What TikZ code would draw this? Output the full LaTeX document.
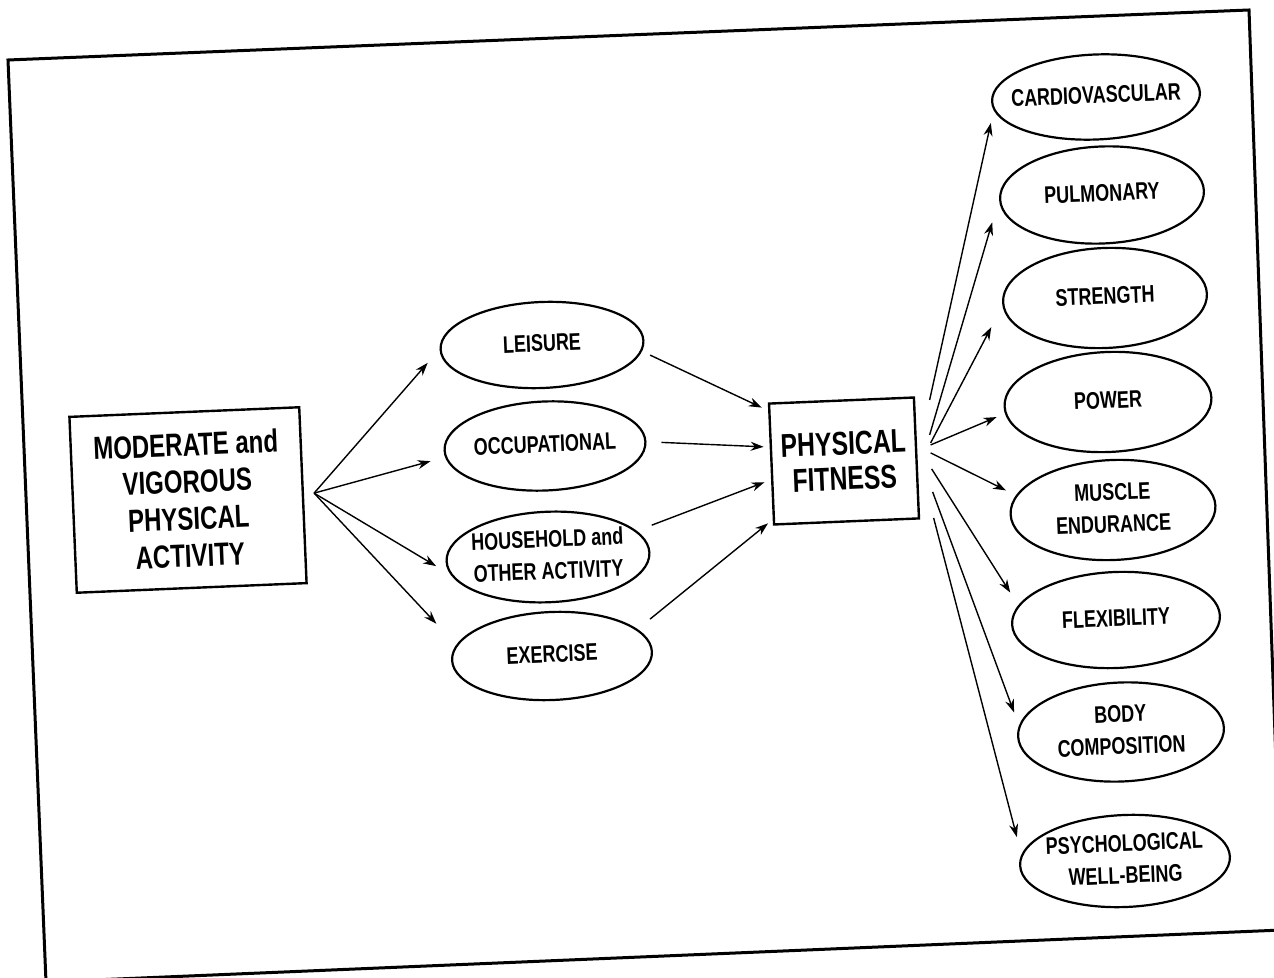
\documentclass[tikz,border=0pt]{standalone}
\usepackage{fontspec}
\setmainfont{Liberation Sans}[FakeStretch=0.75]
\usetikzlibrary{arrows.meta}
\usetikzlibrary{shapes}
\usetikzlibrary{calc}

\newcommand{\ovaltext}[1]{\makebox[0pt]{\begin{tabular}{@{}c@{}}#1\end{tabular}}}

\begin{document}
\begin{tikzpicture}[x=0.5pt,y=-0.5pt]
  \tikzset{oval/.style = {ellipse, draw, line width=1.1pt, inner sep=0pt, rotate=2.4,
      font=\fontsize{12}{16}\selectfont\bfseries}}
  \tikzset{block/.style = {rectangle, draw, line width=1.2pt, align=center, rotate=2.4}}
  \tikzset{line/.style = {draw, line width=0.7pt, -{Stealth[length=6.5pt,width=4.5pt]}}}

  \useasboundingbox (0,0) rectangle (1274,978);
  \draw[line width=1.5pt] (8,60) -- (1249,10) -- (1282,930) -- (46,982) -- cycle;

  %%%%%%%%%%%%

  \node[block, minimum width=115pt, minimum height=88pt,
  font=\fontsize{16}{18.5}\selectfont\bfseries] (mvpa) at (188,500)
  {MODERATE and\\VIGOROUS\\PHYSICAL\\ACTIVITY};

  \node[oval, minimum width=101.5pt, minimum height=43pt] (leisure) at (542,345) {\ovaltext{LEISURE}};
  \node[oval, minimum width=100.5pt, minimum height=44.5pt] (occup) at (545,446) {\ovaltext{OCCUPATIONAL}};
  \node[oval, minimum width=101.5pt, minimum height=45pt] (house) at (548,557) {\ovaltext{HOUSEHOLD and\\OTHER ACTIVITY}};
  \node[oval, minimum width=100pt, minimum height=44pt] (exer) at (552,656) {\ovaltext{EXERCISE}};

  \coordinate (mvpa-out) at ($(mvpa.east)+(10,-2)$);
  \path[line, shorten >=9pt] (mvpa-out) -- (leisure.west);
  \path[line, shorten >=7.5pt] (mvpa-out) -- (occup.184);
  \path[line, shorten >=8.5pt] (mvpa-out) -- (house.188);
  \path[line, shorten >=14.5pt] (mvpa-out) -- (exer.171);

  %%%%%%%%%%%%

  \node[block, minimum width=72.5pt, minimum height=60.5pt,
  font=\fontsize{16.5}{17.5}\selectfont\bfseries] (pf) at (844,461)
  {PHYSICAL\\FITNESS};

  \path[line, shorten <=4.5pt, shorten >=3.5pt] (leisure.-6) -- (pf.144);
  \path[line, shorten <=7.5pt, shorten >=3pt] (occup.0) -- (pf.167);
  \path[line, shorten <=8pt, shorten >=3.5pt] (house.14) -- (pf.192);
  \path[line, shorten <=8pt, shorten >=3pt] (exer.15) -- (pf.217);

  %%%%%%%%%%%%

  \node[oval, minimum width=104pt, minimum height=42.5pt] (cardio) at (1096,97) {\ovaltext{CARDIOVASCULAR}};
  \node[oval, minimum width=102pt, minimum height=48.5pt] (pulm) at (1102,195) {\ovaltext{PULMONARY}};
  \node[oval, minimum width=102pt, minimum height=50pt] (strength) at (1105,298) {\ovaltext{STRENGTH}};
  \node[oval, minimum width=103.5pt, minimum height=50pt] (power) at (1108,402) {\ovaltext{POWER}};
  \node[oval, minimum width=102.5pt, minimum height=50pt] (muscle) at (1113,510) {\ovaltext{MUSCLE\\ENDURANCE}};
  \node[oval, minimum width=104pt, minimum height=48pt] (flex) at (1116,620) {\ovaltext{FLEXIBILITY}};
  \node[oval, minimum width=103pt, minimum height=49.5pt] (body) at (1121,732) {\ovaltext{BODY\\COMPOSITION}};
  \node[oval, minimum width=105pt, minimum height=46pt] (psych) at (1125,861) {\ovaltext{PSYCHOLOGICAL\\WELL-BEING}};

  \coordinate (pf-o1) at ($(pf.east)+(12,-58)$);
  \coordinate (pf-o2) at ($(pf.east)+(12,-23)$);
  \coordinate (pf-o3) at ($(pf.east)+(13,-15)$);
  \coordinate (pf-o4) at ($(pf.east)+(13,-13)$);
  \coordinate (pf-o5) at ($(pf.east)+(13,-5)$);
  \coordinate (pf-o6) at ($(pf.east)+(14,11)$);
  \coordinate (pf-o7) at ($(pf.east)+(15,34)$);
  \coordinate (pf-o8) at ($(pf.east)+(16,60)$);

  \path[line, shorten >=6.5pt] (pf-o1) -- (cardio.185);
  \path[line, shorten >=12pt] (pf-o2) -- (pulm.west);
  \path[line, shorten >=12pt] (pf-o3) -- (strength.182);
  \path[line, shorten >=4.5pt] (pf-o4) -- (power.184);
  \path[line, shorten >=5.5pt] (pf-o5) -- (muscle.169);
  \path[line, shorten >=7.5pt] (pf-o6) -- (flex.169);
  \path[line, shorten >=7pt] (pf-o7) -- (body.174);
  \path[line, shorten >=9pt] (pf-o8) -- (psych.174);

\end{tikzpicture}
\end{document}
